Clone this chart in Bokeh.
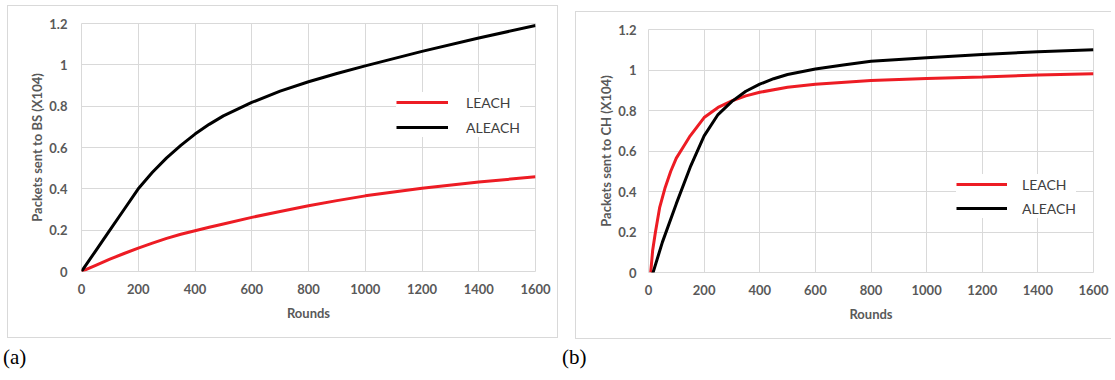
from bokeh.plotting import figure
from bokeh.layouts import row, column
from bokeh.models import (FixedTicker, NumeralTickFormatter, Legend, LegendItem,
                          Range1d, Div)
from bokeh.embed import file_html
from bokeh.resources import INLINE

# ---------------- data ----------------
x_ticks = [0, 200, 400, 600, 800, 1000, 1200, 1400, 1600]
y_ticks = [0, 0.2, 0.4, 0.6, 0.8, 1, 1.2]

# panel (a): packets sent to BS (x10^4)
rounds_a = [0, 50, 100, 150, 200, 250, 300, 350, 400, 450, 500, 600, 700, 800, 900, 1000, 1200, 1400, 1600]
aleach_a = [0, 0.10, 0.20, 0.30, 0.40, 0.48, 0.55, 0.61, 0.665, 0.712, 0.753, 0.818, 0.873, 0.918, 0.958, 0.995, 1.065, 1.13, 1.19]
leach_a = [0, 0.03, 0.06, 0.087, 0.113, 0.137, 0.16, 0.18, 0.197, 0.214, 0.23, 0.262, 0.29, 0.318, 0.343, 0.366, 0.403, 0.433, 0.458]

# panel (b): packets sent to CH (x10^4)
rounds_b_leach = [8, 15, 25, 40, 60, 80, 100, 125, 150, 200, 250, 300, 350, 400, 500, 600, 800, 1000, 1200, 1400, 1600]
leach_b = [0.0, 0.11, 0.2, 0.32, 0.42, 0.5, 0.565, 0.62, 0.675, 0.765, 0.815, 0.848, 0.872, 0.89, 0.915, 0.93, 0.948, 0.958, 0.966, 0.975, 0.982]
rounds_b_aleach = [12, 50, 100, 150, 200, 250, 300, 350, 400, 450, 500, 600, 700, 800, 1000, 1200, 1400, 1600]
aleach_b = [-0.02, 0.15, 0.34, 0.52, 0.675, 0.78, 0.845, 0.895, 0.93, 0.957, 0.978, 1.005, 1.025, 1.043, 1.06, 1.077, 1.09, 1.10]

series_names = ["LEACH", "ALEACH"]
series_colors = ["#ed1c24", "#000000"]
panel_tags = ["(a)", "(b)"]

AX_FONT = "Lato"
AX_COLOR = "#595959"
GRID = "#d9d9d9"


def make_panel(width, height, mb_left, mb_right, mb_top, mb_bottom, ylabel,
               ylab_standoff, ytitle_standoff, data, legend_cfg, margin, styles):
    p = figure(width=width, height=height, output_backend="svg", toolbar_location=None,
               x_range=Range1d(0, 1600), y_range=Range1d(0, 1.2),
               min_border_left=mb_left, min_border_right=mb_right,
               min_border_top=mb_top, min_border_bottom=mb_bottom,
               margin=margin, styles=styles)
    p.background_fill_color = "white"
    p.border_fill_color = "white"
    p.outline_line_color = GRID
    p.outline_line_width = 1

    p.xaxis.ticker = FixedTicker(ticks=x_ticks)
    p.yaxis.ticker = FixedTicker(ticks=y_ticks)
    p.yaxis.formatter = NumeralTickFormatter(format="0.[0]")
    for ax in (p.xaxis[0], p.yaxis[0]):
        ax.axis_line_color = None
        ax.major_tick_line_color = None
        ax.minor_tick_line_color = None
        ax.major_tick_out = 0
        ax.major_tick_in = 0
        ax.major_label_text_font = AX_FONT
        ax.major_label_text_font_size = "13px"
        ax.major_label_text_font_style = "bold"
        ax.major_label_text_color = AX_COLOR
        ax.axis_label_text_font = AX_FONT
        ax.axis_label_text_font_size = "13px"
        ax.axis_label_text_font_style = "bold"
        ax.axis_label_text_color = AX_COLOR
    p.xaxis.axis_label = "Rounds"
    p.yaxis.axis_label = ylabel
    p.yaxis.major_label_standoff = ylab_standoff
    p.yaxis.axis_label_standoff = ytitle_standoff
    p.xaxis.major_label_standoff = 12
    p.xaxis.axis_label_standoff = 8
    p.xgrid.grid_line_color = GRID
    p.ygrid.grid_line_color = GRID

    items = []
    for (xs, ys), name, col in zip(data, series_names, series_colors):
        r = p.line(xs, ys, line_color=col, line_width=3)
        items.append(LegendItem(label=name, renderers=[r]))

    gw, standoff, loc, spacing = legend_cfg
    leg = Legend(items=items, location=loc, glyph_width=gw, glyph_height=20,
                 label_height=20, label_standoff=standoff, spacing=spacing,
                 padding=8, margin=0, border_line_color=None,
                 background_fill_color="white", background_fill_alpha=1.0,
                 label_text_font=AX_FONT, label_text_font_size="14px",
                 label_text_color="#404040")
    p.add_layout(leg)
    return p


BORDER = "1px solid " + GRID
pa = make_panel(551, 333, 73, 24, 17, 68, "Packets sent to BS (X104)",
                14, 1,
                [(rounds_a, leach_a), (rounds_a, aleach_a)],
                (52, 18, (315, 134), 5),
                (5, 0, 0, 7), {"border": BORDER})
pb = make_panel(536, 328, 72, 19, 16, 67, "Packets sent to CH (X104)",
                12, 1,
                [(rounds_b_leach, leach_b), (rounds_b_aleach, aleach_b)],
                (51, 15, (308, 54), 4),
                (11, 0, 0, 17), {"border-left": BORDER, "border-top": BORDER,
                                 "border-bottom": BORDER})

tag_style = {"font-family": "Liberation Serif", "font-size": "21px",
             "line-height": "24px", "color": "black"}
da = Div(text=panel_tags[0], width=556, height=26, margin=(6, 0, 0, 3), styles=tag_style)
db = Div(text=panel_tags[1], width=60, height=26, margin=(6, 0, 0, 3), styles=tag_style)

layout = column(row(pa, pb), row(da, db))
open("out.html", "w").write(file_html(layout, INLINE))
